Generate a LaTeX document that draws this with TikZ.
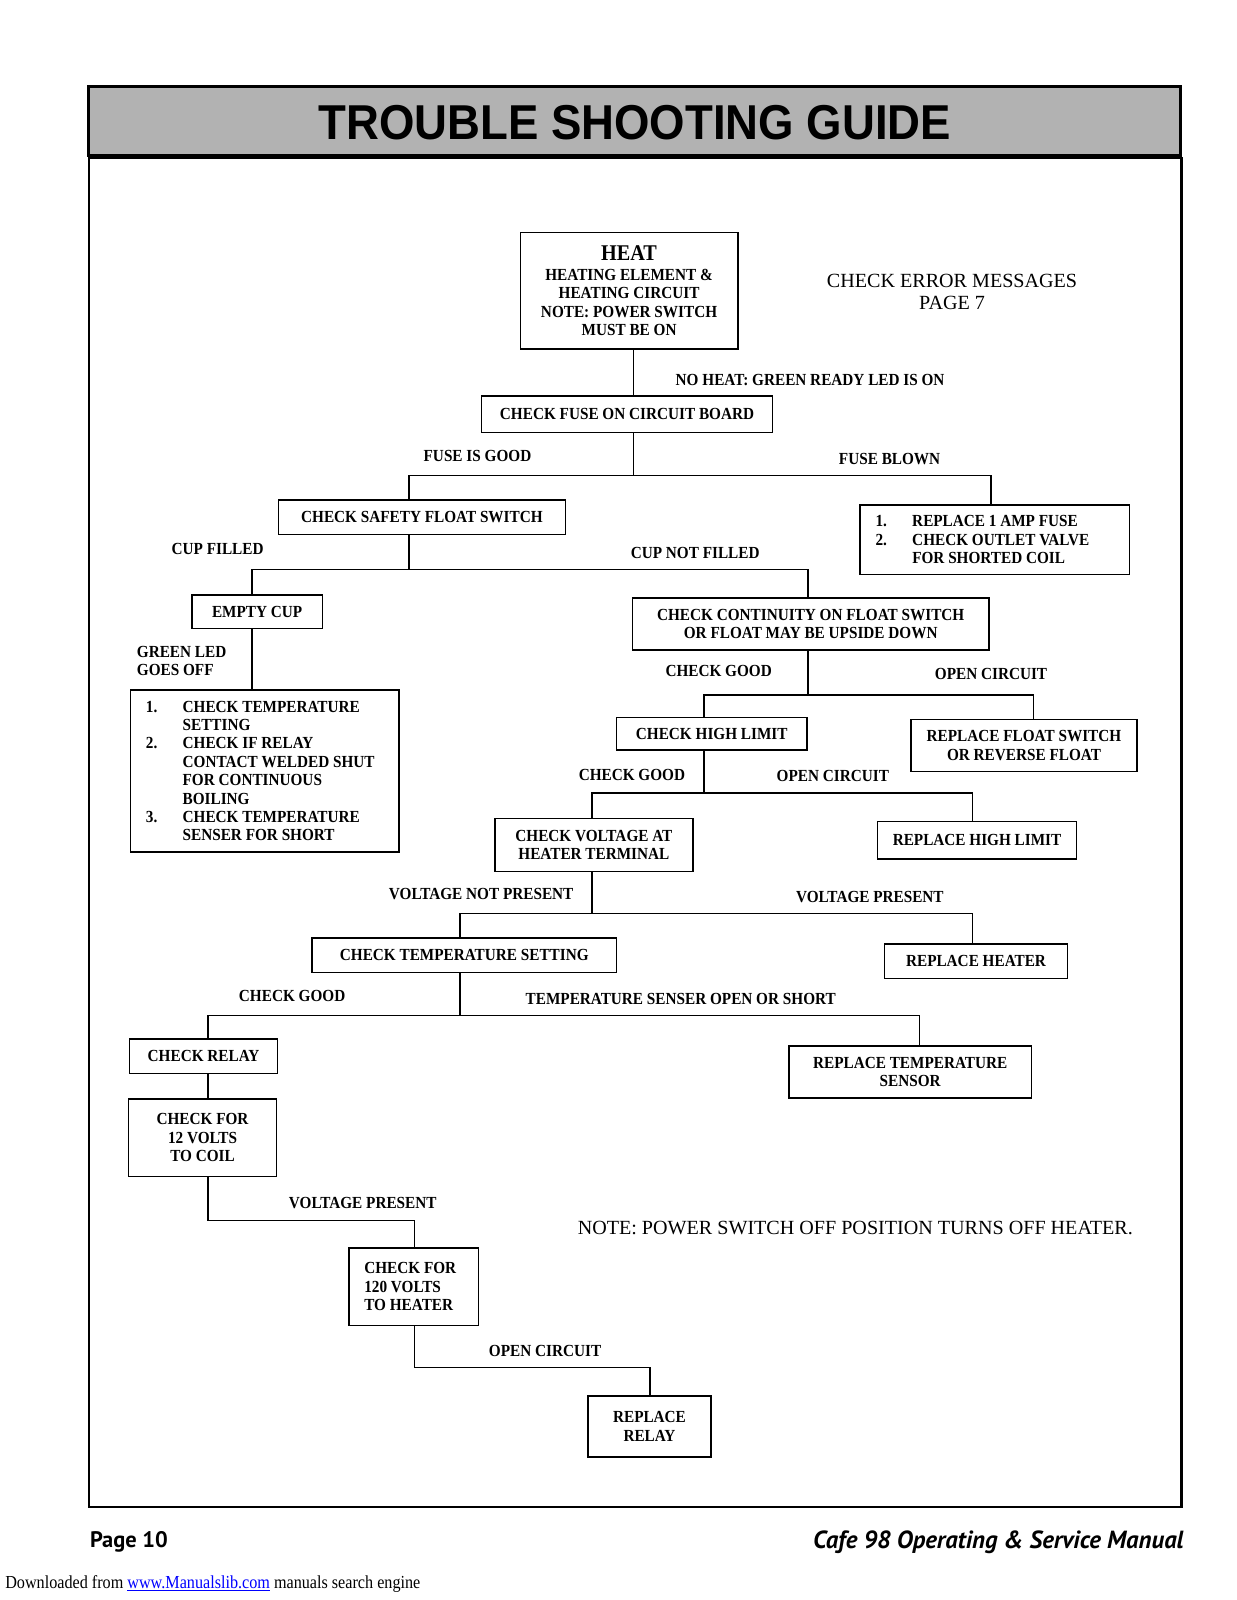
\documentclass[tikz,border=0pt]{standalone}
\usepackage{fontspec}
\setmainfont{Liberation Serif}
\newfontfamily\boxfont[FakeStretch=0.9]{Liberation Serif}
\newfontfamily\titlefont[FakeStretch=0.93]{Liberation Sans}
\newfontfamily\footfont{PT Sans}
\newfontfamily\dlfont[FakeStretch=0.88]{Liberation Serif}
\usepackage{tikz}
\tikzset{
  chkbox/.style    = {draw, line width=1.5pt, inner sep=0pt, align=center,
                      font=\boxfont\bfseries\fontsize{16.6}{18}\selectfont},
  branchlbl/.style = {anchor=west, inner sep=0pt, align=left,
                      font=\boxfont\bfseries\fontsize{16.6}{18}\selectfont},
  wire/.style      = {line width=1.4pt},
  notetxt/.style   = {inner sep=0pt, align=center, font=\fontsize{19.7}{22}\selectfont},
  titletxt/.style  = {inner sep=0pt, font=\titlefont\bfseries\fontsize{48}{48}\selectfont}
}
\newcommand{\listno}[1]{\makebox[36pt][l]{#1}}
\newcommand{\listpad}{\hspace*{36pt}}

\begin{document}
\begin{tikzpicture}[x=1pt,y=-1pt]
  \useasboundingbox (0,0) rectangle (1212,1568);
  % title banner
  \fill[black!30] (87,85) rectangle (1157,152);
  \draw[line width=3pt] (87,85) rectangle (1157,152);
  \node[titletxt] (title) at (622,120) {TROUBLE SHOOTING GUIDE};
  \draw[line width=2.4pt] (87,155) rectangle (1158,1477);

  % boxes
  \node[chkbox,minimum width=213,minimum height=114] (heat) at (616.5,285)
       {{\fontsize{22}{22}\selectfont HEAT}\\[1pt]HEATING ELEMENT \&\\HEATING CIRCUIT\\NOTE: POWER SWITCH\\MUST BE ON};
  \node[notetxt] (errmsg) at (933,286) {CHECK ERROR MESSAGES\\PAGE 7};
  \node[chkbox,minimum width=285,minimum height=36] (fuse) at (614.5,406) {CHECK FUSE ON CIRCUIT BOARD};
  \node[chkbox,minimum width=281,minimum height=34] (safety) at (413.5,507) {CHECK SAFETY FLOAT SWITCH};
  \node[chkbox,minimum width=264,minimum height=68,text width=234,align=flush left] (rfuse) at (975,529)
       {\listno{1.}REPLACE 1 AMP FUSE\\\listno{2.}CHECK OUTLET VALVE\\\listpad FOR SHORTED COIL};
  \node[chkbox,minimum width=128,minimum height=33] (empty) at (252,599.5) {EMPTY CUP};
  \node[chkbox,minimum width=263,minimum height=159,text width=233,align=flush left] (ledoff) at (259.5,755.5)
       {\listno{1.}CHECK TEMPERATURE\\\listpad SETTING\\\listno{2.}CHECK IF RELAY\\\listpad CONTACT WELDED SHUT\\
        \listpad FOR CONTINUOUS\\\listpad BOILING\\\listno{3.}CHECK TEMPERATURE\\\listpad SENSER FOR SHORT};
  \node[chkbox,minimum width=349,minimum height=51] (cont) at (794.5,611.5)
       {CHECK CONTINUITY ON FLOAT SWITCH\\OR FLOAT MAY BE UPSIDE DOWN};
  \node[chkbox,minimum width=187,minimum height=32] (hilim) at (697.5,719) {CHECK HIGH LIMIT};
  \node[chkbox,minimum width=221,minimum height=51] (rfloat) at (1003.5,730.5) {REPLACE FLOAT SWITCH\\OR REVERSE FLOAT};
  \node[chkbox,minimum width=194,minimum height=52] (volt) at (582,828) {CHECK VOLTAGE AT\\HEATER TERMINAL};
  \node[chkbox,minimum width=195,minimum height=37] (rhl) at (957.5,823.5) {REPLACE HIGH LIMIT};
  \node[chkbox,minimum width=298,minimum height=34] (tset) at (455,936) {CHECK TEMPERATURE SETTING};
  \node[chkbox,minimum width=179,minimum height=34] (rheat) at (956.5,942) {REPLACE HEATER};
  \node[chkbox,minimum width=145,minimum height=34] (relay) at (199.5,1035) {CHECK RELAY};
  \node[chkbox,minimum width=238,minimum height=51] (rsens) at (892,1050.5) {REPLACE TEMPERATURE\\SENSOR};
  \node[chkbox,minimum width=145,minimum height=76] (v12) at (198.5,1115) {CHECK FOR\\12 VOLTS\\TO COIL};
  \node[chkbox,minimum width=127,minimum height=76,text width=97,align=flush left] (v120) at (405.5,1261)
       {CHECK FOR\\120 VOLTS\\TO HEATER};
  \node[chkbox,minimum width=121,minimum height=60] (rrelay) at (636.5,1398) {REPLACE\\RELAY};
  \node[notetxt,anchor=west] (note) at (566,1203) {NOTE: POWER SWITCH OFF POSITION TURNS OFF HEATER.};

  % branch labels
  \node[branchlbl] (lnoheat) at (662,372) {NO HEAT: GREEN READY LED IS ON};
  \node[branchlbl] (lfgood)  at (415,447) {FUSE IS GOOD};
  \node[branchlbl] (lblown)  at (822,450) {FUSE BLOWN};
  \node[branchlbl] (lfilled) at (168,538) {CUP FILLED};
  \node[branchlbl] (lnotfil) at (618,542) {CUP NOT FILLED};
  \node[branchlbl] (lledoff) at (134,648) {GREEN LED\\GOES OFF};
  \node[branchlbl] (lgood1)  at (652,658) {CHECK GOOD};
  \node[branchlbl] (lopen1)  at (916,660) {OPEN CIRCUIT};
  \node[branchlbl] (lgood2)  at (567,759) {CHECK GOOD};
  \node[branchlbl] (lopen2)  at (761,760) {OPEN CIRCUIT};
  \node[branchlbl] (lnovolt) at (381,876) {VOLTAGE NOT PRESENT};
  \node[branchlbl] (lvolt1)  at (780,879) {VOLTAGE PRESENT};
  \node[branchlbl] (lgood3)  at (234,976) {CHECK GOOD};
  \node[branchlbl] (lsens)   at (515,979) {TEMPERATURE SENSER OPEN OR SHORT};
  \node[branchlbl] (lvolt2)  at (283,1179) {VOLTAGE PRESENT};
  \node[branchlbl] (lopen3)  at (479,1324) {OPEN CIRCUIT};

  % connectors
  \coordinate (b1) at (621,466);
  \coordinate (b2) at (401,558);
  \coordinate (b3) at (792,681);
  \coordinate (b4) at (690,777);
  \coordinate (b5) at (580,895);
  \coordinate (b6) at (451,995);
  \coordinate (b7) at (406,1196);
  \coordinate (b8) at (637,1340);
  \draw[wire] (heat.south -| b1) -- (fuse.north -| b1);
  \draw[wire] (fuse.south -| b1) -- (b1) -| (safety.north -| 401,0);
  \draw[wire] (b1) -| (rfuse.north -| 971,0);
  \draw[wire] (safety.south -| b2) -- (b2) -| (empty.north -| 247,0);
  \draw[wire] (b2) -| (cont.north -| b3);
  \draw[wire] (empty.south -| 247,0) -- (ledoff.north -| 247,0);
  \draw[wire] (cont.south -| b3) -- (b3) -| (hilim.north -| b4);
  \draw[wire] (b3) -| (rfloat.north -| 1013,0);
  \draw[wire] (hilim.south -| b4) -- (b4) -| (volt.north -| b5);
  \draw[wire] (b4) -| (rhl.north -| 953,0);
  \draw[wire] (volt.south -| b5) -- (b5) -| (tset.north -| b6);
  \draw[wire] (b5) -| (rheat.north -| 953,0);
  \draw[wire] (tset.south -| b6) -- (b6) -| (relay.north -| 204,0);
  \draw[wire] (b6) -| (rsens.north -| 901,0);
  \draw[wire] (relay.south -| 204,0) -- (v12.north -| 204,0);
  \draw[wire] (v12.south -| 204,0) |- (b7) -- (v120.north -| b7);
  \draw[wire] (v120.south -| b7) |- (b8) -- (rrelay.north -| b8);

  % page footer
  \node[anchor=base west,inner sep=0pt,font=\footfont\bfseries\fontsize{22}{22}\selectfont] (pageno) at (88,1517) {Page 10};
  \node[anchor=base east,inner sep=0pt,font=\footfont\bfseries\itshape\fontsize{24.3}{25}\selectfont] (manual) at (1160,1518)
       {Cafe 98 Operating \& Service Manual};
  \node[anchor=base west,inner sep=0pt,font=\dlfont\fontsize{18}{18}\selectfont] (dl) at (5,1557)
       {Downloaded from \textcolor{blue}{\underline{www.Manualslib.com}} manuals search engine};
\end{tikzpicture}
\end{document}
